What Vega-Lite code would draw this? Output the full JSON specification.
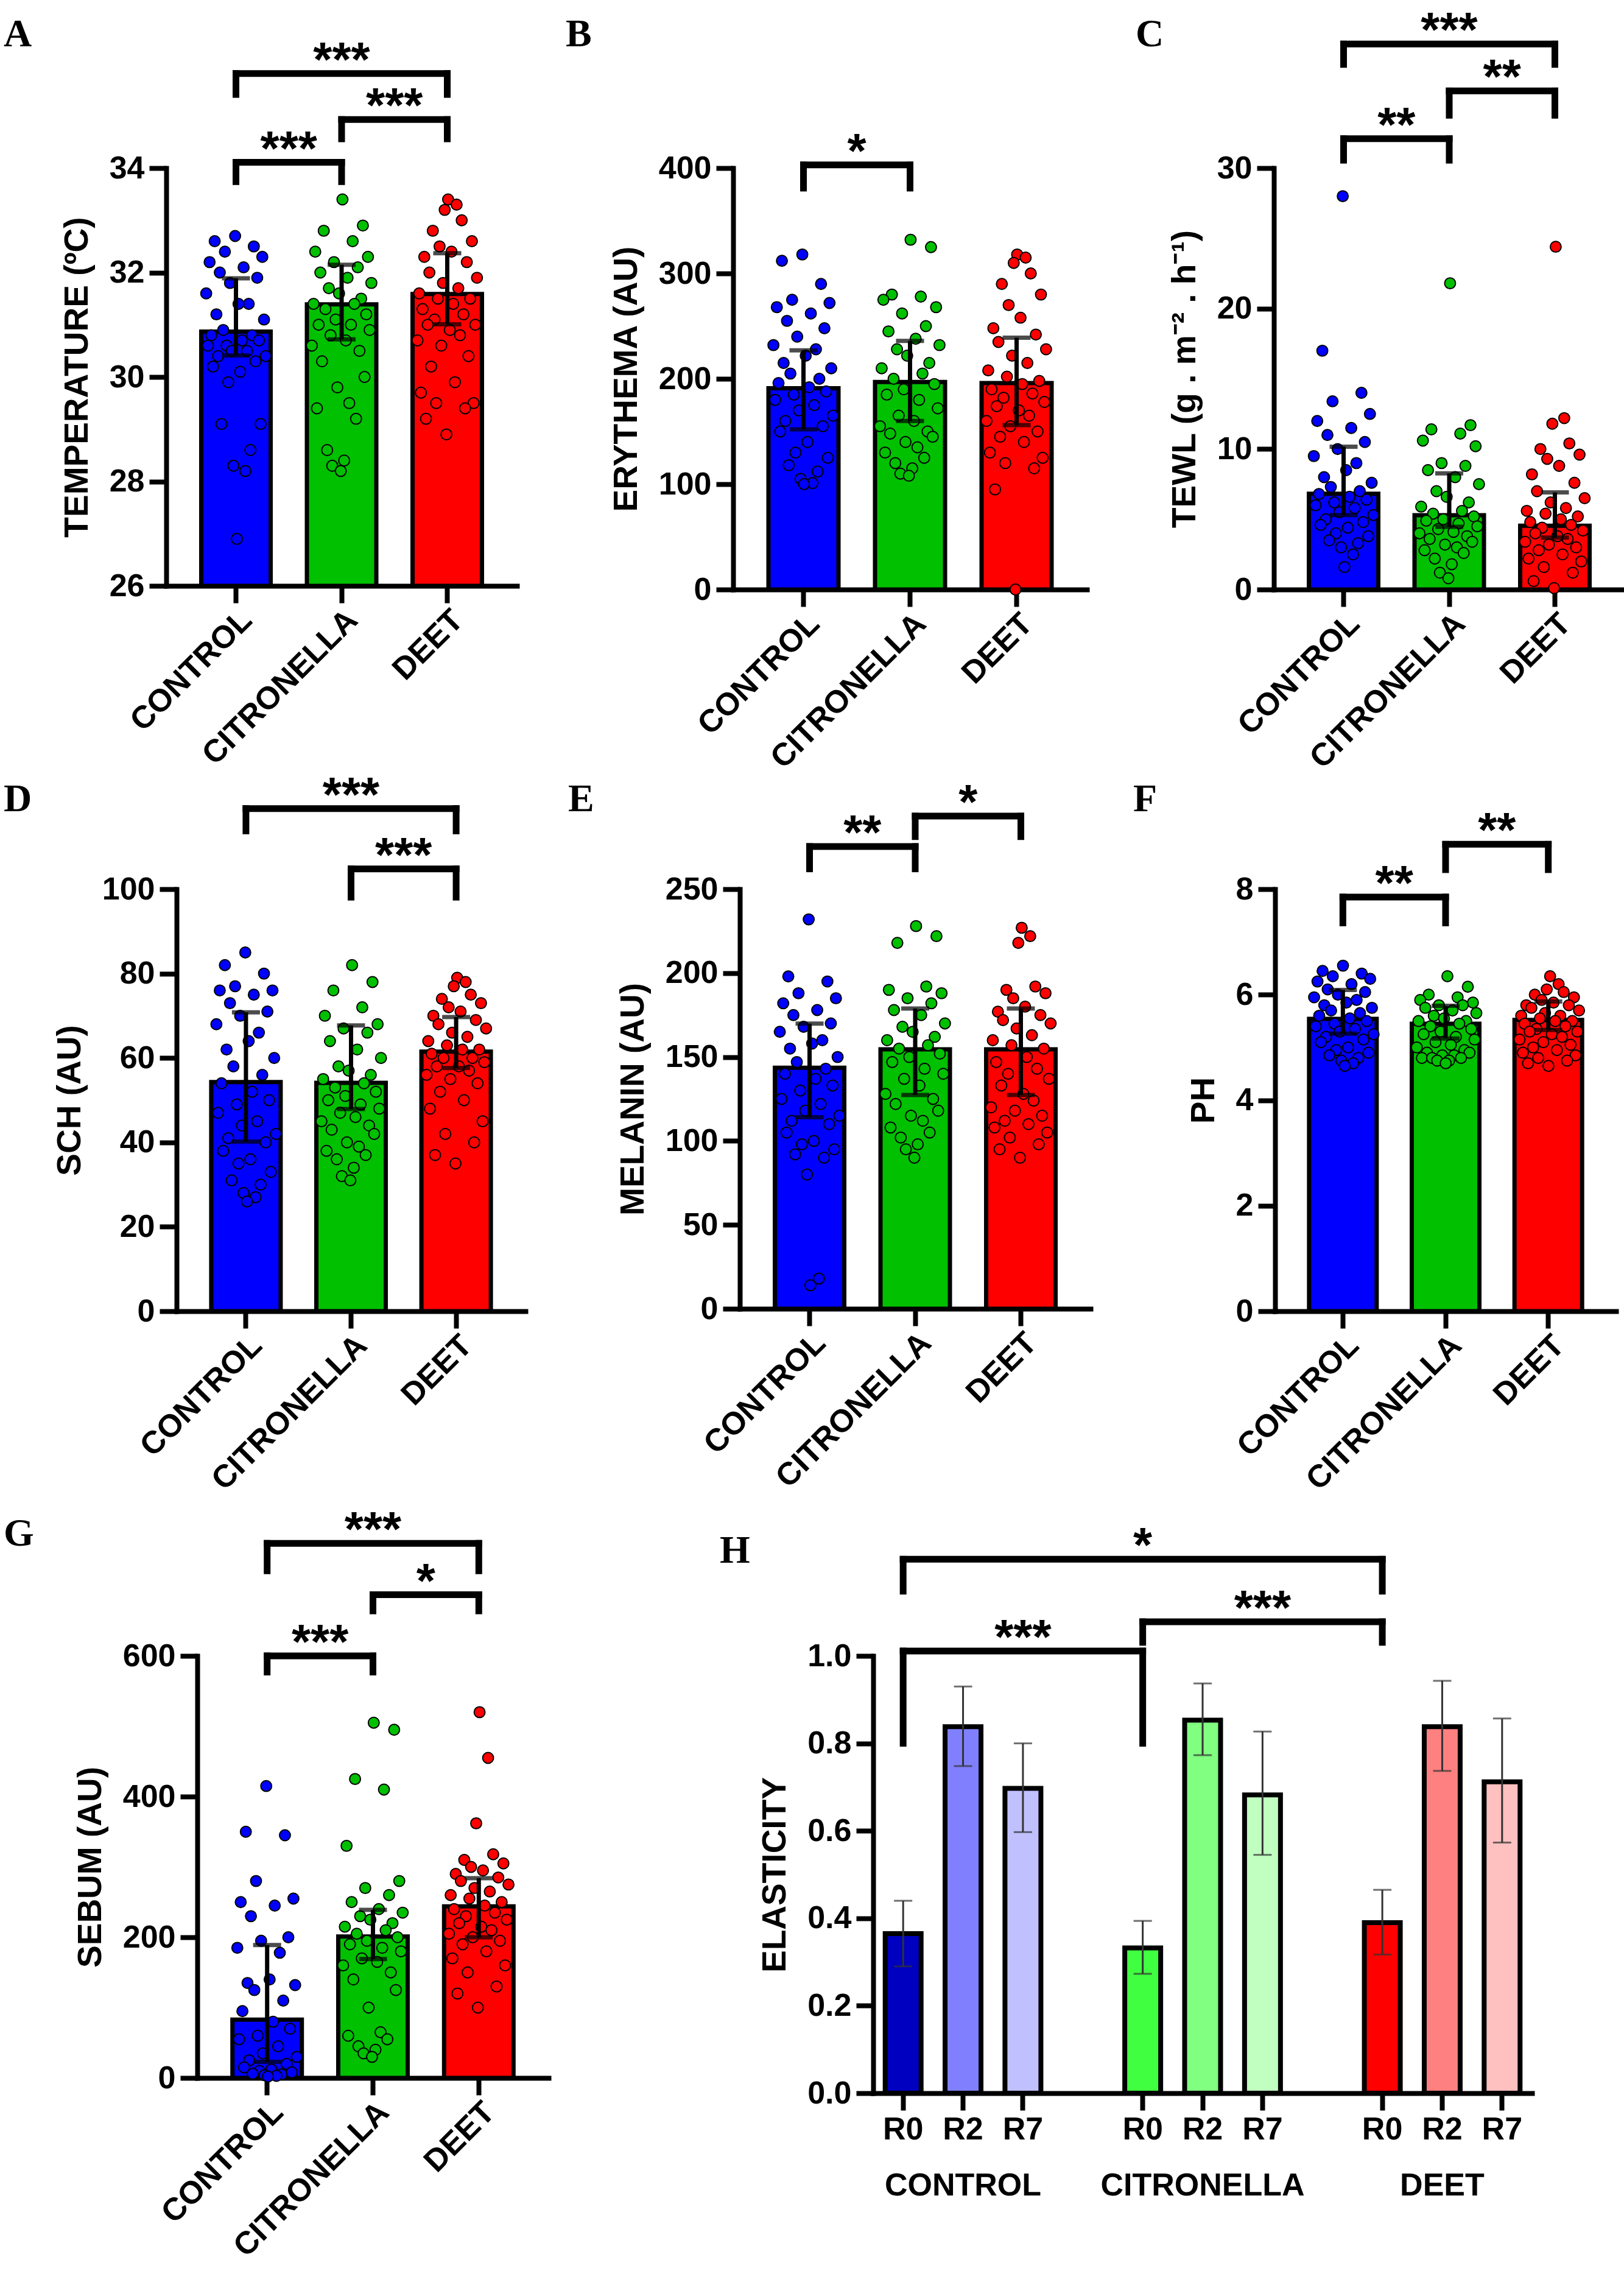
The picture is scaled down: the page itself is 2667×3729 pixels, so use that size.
{
  "$schema": "https://vega.github.io/schema/vega-lite/v6.json",
  "background": "white",
  "padding": {"left": 5, "top": 12, "right": 5, "bottom": 0},
  "config": {
    "view": {"stroke": null},
    "font": "Liberation Sans",
    "axis": {
      "grid": false, "domainColor": "black", "domainWidth": 8, "domainCap": "square",
      "tickColor": "black", "tickWidth": 8, "tickSize": 28,
      "labelFont": "Liberation Sans", "labelFontWeight": "bold", "labelFontSize": 52, "labelColor": "black",
      "labelPadding": 8, "labelFlush": false, "labelOverlap": false, "labelLimit": 1000,
      "titleFont": "Liberation Sans", "titleFontWeight": "bold", "titleFontSize": 55, "titleColor": "black", "titlePadding": 24
    },
    "axisX": {"labelPadding": 2},
    "title": {"font": "Liberation Serif", "fontSize": 64, "fontWeight": "bold", "color": "black", "anchor": "start", "frame": "group", "baseline": "alphabetic"}
  },
  "datasets": {
    "pA": [{"g":"C","i":17,"v":32.7},{"g":"C","i":5,"v":32.6},{"g":"C","i":28,"v":32.5},{"g":"C","i":11,"v":32.4},{"g":"C","i":33,"v":32.3},{"g":"C","i":2,"v":32.2},{"g":"C","i":22,"v":32.1},{"g":"C","i":8,"v":32.0},{"g":"C","i":30,"v":31.9},{"g":"C","i":14,"v":31.8},{"g":"C","i":0,"v":31.6},{"g":"C","i":25,"v":31.4},{"g":"C","i":19,"v":31.4},{"g":"C","i":6,"v":31.2},{"g":"C","i":34,"v":31.1},{"g":"C","i":10,"v":30.9},{"g":"C","i":27,"v":30.8},{"g":"C","i":3,"v":30.8},{"g":"C","i":21,"v":30.7},{"g":"C","i":31,"v":30.7},{"g":"C","i":12,"v":30.6},{"g":"C","i":1,"v":30.6},{"g":"C","i":24,"v":30.5},{"g":"C","i":15,"v":30.5},{"g":"C","i":35,"v":30.4},{"g":"C","i":7,"v":30.4},{"g":"C","i":29,"v":30.3},{"g":"C","i":4,"v":30.2},{"g":"C","i":20,"v":30.1},{"g":"C","i":13,"v":29.9},{"g":"C","i":32,"v":29.1},{"g":"C","i":9,"v":29.1},{"g":"C","i":26,"v":28.6},{"g":"C","i":16,"v":28.3},{"g":"C","i":23,"v":28.2},{"g":"C","i":18,"v":26.9},
      {"g":"T","i":18,"v":33.4},{"g":"T","i":30,"v":32.9},{"g":"T","i":7,"v":32.8},{"g":"T","i":24,"v":32.6},{"g":"T","i":2,"v":32.4},{"g":"T","i":33,"v":32.3},{"g":"T","i":13,"v":32.2},{"g":"T","i":27,"v":32.1},{"g":"T","i":5,"v":32.0},{"g":"T","i":21,"v":31.9},{"g":"T","i":35,"v":31.8},{"g":"T","i":10,"v":31.7},{"g":"T","i":16,"v":31.6},{"g":"T","i":29,"v":31.5},{"g":"T","i":1,"v":31.4},{"g":"T","i":25,"v":31.4},{"g":"T","i":8,"v":31.3},{"g":"T","i":32,"v":31.2},{"g":"T","i":14,"v":31.1},{"g":"T","i":4,"v":31.0},{"g":"T","i":23,"v":31.0},{"g":"T","i":34,"v":30.9},{"g":"T","i":11,"v":30.8},{"g":"T","i":20,"v":30.7},{"g":"T","i":0,"v":30.6},{"g":"T","i":28,"v":30.5},{"g":"T","i":6,"v":30.3},{"g":"T","i":31,"v":30.0},{"g":"T","i":15,"v":29.8},{"g":"T","i":22,"v":29.5},{"g":"T","i":3,"v":29.4},{"g":"T","i":26,"v":29.2},{"g":"T","i":9,"v":28.6},{"g":"T","i":19,"v":28.4},{"g":"T","i":12,"v":28.3},{"g":"T","i":17,"v":28.2},
      {"g":"D","i":18,"v":33.4},{"g":"D","i":23,"v":33.3},{"g":"D","i":16,"v":33.2},{"g":"D","i":26,"v":33.0},{"g":"D","i":9,"v":32.8},{"g":"D","i":32,"v":32.6},{"g":"D","i":13,"v":32.5},{"g":"D","i":20,"v":32.4},{"g":"D","i":4,"v":32.3},{"g":"D","i":29,"v":32.2},{"g":"D","i":7,"v":32.0},{"g":"D","i":35,"v":31.9},{"g":"D","i":15,"v":31.8},{"g":"D","i":24,"v":31.7},{"g":"D","i":1,"v":31.6},{"g":"D","i":12,"v":31.5},{"g":"D","i":31,"v":31.5},{"g":"D","i":21,"v":31.4},{"g":"D","i":3,"v":31.3},{"g":"D","i":27,"v":31.2},{"g":"D","i":10,"v":31.1},{"g":"D","i":34,"v":31.0},{"g":"D","i":6,"v":31.0},{"g":"D","i":19,"v":30.9},{"g":"D","i":25,"v":30.8},{"g":"D","i":0,"v":30.7},{"g":"D","i":14,"v":30.6},{"g":"D","i":30,"v":30.4},{"g":"D","i":8,"v":30.2},{"g":"D","i":22,"v":29.9},{"g":"D","i":2,"v":29.7},{"g":"D","i":33,"v":29.5},{"g":"D","i":11,"v":29.5},{"g":"D","i":28,"v":29.4},{"g":"D","i":5,"v":29.2},{"g":"D","i":17,"v":28.9}],
    "pB": [{"g":"C","i":17,"v":318},{"g":"C","i":5,"v":312},{"g":"C","i":28,"v":290},{"g":"C","i":11,"v":275},{"g":"C","i":33,"v":272},{"g":"C","i":2,"v":268},{"g":"C","i":22,"v":262},{"g":"C","i":8,"v":255},{"g":"C","i":30,"v":248},{"g":"C","i":14,"v":240},{"g":"C","i":0,"v":232},{"g":"C","i":25,"v":228},{"g":"C","i":19,"v":222},{"g":"C","i":6,"v":215},{"g":"C","i":34,"v":210},{"g":"C","i":10,"v":205},{"g":"C","i":27,"v":200},{"g":"C","i":3,"v":196},{"g":"C","i":21,"v":192},{"g":"C","i":31,"v":188},{"g":"C","i":12,"v":185},{"g":"C","i":1,"v":180},{"g":"C","i":24,"v":175},{"g":"C","i":15,"v":170},{"g":"C","i":35,"v":165},{"g":"C","i":7,"v":160},{"g":"C","i":29,"v":155},{"g":"C","i":4,"v":150},{"g":"C","i":20,"v":140},{"g":"C","i":13,"v":130},{"g":"C","i":32,"v":125},{"g":"C","i":9,"v":118},{"g":"C","i":26,"v":112},{"g":"C","i":16,"v":105},{"g":"C","i":23,"v":101},{"g":"C","i":18,"v":100},
      {"g":"T","i":18,"v":332},{"g":"T","i":30,"v":325},{"g":"T","i":7,"v":280},{"g":"T","i":24,"v":278},{"g":"T","i":2,"v":275},{"g":"T","i":33,"v":268},{"g":"T","i":13,"v":262},{"g":"T","i":27,"v":250},{"g":"T","i":5,"v":245},{"g":"T","i":21,"v":238},{"g":"T","i":35,"v":232},{"g":"T","i":10,"v":228},{"g":"T","i":16,"v":222},{"g":"T","i":29,"v":215},{"g":"T","i":1,"v":210},{"g":"T","i":25,"v":205},{"g":"T","i":8,"v":200},{"g":"T","i":32,"v":195},{"g":"T","i":14,"v":190},{"g":"T","i":4,"v":185},{"g":"T","i":23,"v":180},{"g":"T","i":34,"v":172},{"g":"T","i":11,"v":165},{"g":"T","i":20,"v":160},{"g":"T","i":0,"v":155},{"g":"T","i":28,"v":150},{"g":"T","i":6,"v":148},{"g":"T","i":31,"v":145},{"g":"T","i":15,"v":140},{"g":"T","i":22,"v":135},{"g":"T","i":3,"v":130},{"g":"T","i":26,"v":125},{"g":"T","i":9,"v":120},{"g":"T","i":19,"v":115},{"g":"T","i":12,"v":110},{"g":"T","i":17,"v":108},
      {"g":"D","i":18,"v":318},{"g":"D","i":23,"v":315},{"g":"D","i":16,"v":310},{"g":"D","i":26,"v":300},{"g":"D","i":9,"v":290},{"g":"D","i":32,"v":280},{"g":"D","i":13,"v":270},{"g":"D","i":20,"v":258},{"g":"D","i":4,"v":248},{"g":"D","i":29,"v":242},{"g":"D","i":7,"v":235},{"g":"D","i":35,"v":228},{"g":"D","i":15,"v":222},{"g":"D","i":24,"v":215},{"g":"D","i":1,"v":208},{"g":"D","i":12,"v":202},{"g":"D","i":31,"v":198},{"g":"D","i":21,"v":195},{"g":"D","i":3,"v":190},{"g":"D","i":27,"v":186},{"g":"D","i":10,"v":182},{"g":"D","i":34,"v":178},{"g":"D","i":6,"v":174},{"g":"D","i":19,"v":170},{"g":"D","i":25,"v":165},{"g":"D","i":0,"v":160},{"g":"D","i":14,"v":155},{"g":"D","i":30,"v":150},{"g":"D","i":8,"v":145},{"g":"D","i":22,"v":140},{"g":"D","i":2,"v":130},{"g":"D","i":33,"v":125},{"g":"D","i":11,"v":120},{"g":"D","i":28,"v":115},{"g":"D","i":5,"v":95},{"g":"D","i":17,"v":0}],
    "pC": [{"g":"C","i":17,"v":28},{"g":"C","i":5,"v":17},{"g":"C","i":28,"v":14},{"g":"C","i":11,"v":13.4},{"g":"C","i":33,"v":12.5},{"g":"C","i":2,"v":12},{"g":"C","i":22,"v":11.5},{"g":"C","i":8,"v":11},{"g":"C","i":30,"v":10.5},{"g":"C","i":14,"v":10},{"g":"C","i":0,"v":9.5},{"g":"C","i":25,"v":9},{"g":"C","i":19,"v":8.5},{"g":"C","i":6,"v":8},{"g":"C","i":34,"v":7.6},{"g":"C","i":10,"v":7.3},{"g":"C","i":27,"v":7},{"g":"C","i":3,"v":6.8},{"g":"C","i":21,"v":6.6},{"g":"C","i":31,"v":6.4},{"g":"C","i":12,"v":6.2},{"g":"C","i":1,"v":6},{"g":"C","i":24,"v":5.8},{"g":"C","i":15,"v":5.5},{"g":"C","i":35,"v":5.3},{"g":"C","i":7,"v":5},{"g":"C","i":29,"v":4.8},{"g":"C","i":4,"v":4.6},{"g":"C","i":20,"v":4.4},{"g":"C","i":13,"v":4},{"g":"C","i":32,"v":3.8},{"g":"C","i":9,"v":3.5},{"g":"C","i":26,"v":3.3},{"g":"C","i":16,"v":3},{"g":"C","i":23,"v":2.5},{"g":"C","i":18,"v":1.6},
      {"g":"T","i":18,"v":21.8},{"g":"T","i":30,"v":11.7},{"g":"T","i":7,"v":11.4},{"g":"T","i":24,"v":11.1},{"g":"T","i":2,"v":10.6},{"g":"T","i":33,"v":10.2},{"g":"T","i":13,"v":9},{"g":"T","i":27,"v":8.8},{"g":"T","i":5,"v":8.5},{"g":"T","i":21,"v":8},{"g":"T","i":35,"v":7.5},{"g":"T","i":10,"v":7},{"g":"T","i":16,"v":6.6},{"g":"T","i":29,"v":6.2},{"g":"T","i":1,"v":5.9},{"g":"T","i":25,"v":5.6},{"g":"T","i":8,"v":5.4},{"g":"T","i":32,"v":5.2},{"g":"T","i":14,"v":5},{"g":"T","i":4,"v":4.9},{"g":"T","i":23,"v":4.7},{"g":"T","i":34,"v":4.5},{"g":"T","i":11,"v":4.3},{"g":"T","i":20,"v":4.1},{"g":"T","i":0,"v":4},{"g":"T","i":28,"v":3.8},{"g":"T","i":6,"v":3.6},{"g":"T","i":31,"v":3.4},{"g":"T","i":15,"v":3.2},{"g":"T","i":22,"v":3},{"g":"T","i":3,"v":2.8},{"g":"T","i":26,"v":2.6},{"g":"T","i":9,"v":2.2},{"g":"T","i":19,"v":1.8},{"g":"T","i":12,"v":1.2},{"g":"T","i":17,"v":0.8},
      {"g":"D","i":18,"v":24.4},{"g":"D","i":23,"v":12.2},{"g":"D","i":16,"v":11.8},{"g":"D","i":26,"v":10.4},{"g":"D","i":9,"v":10},{"g":"D","i":32,"v":9.6},{"g":"D","i":13,"v":9.3},{"g":"D","i":20,"v":8.8},{"g":"D","i":4,"v":8.2},{"g":"D","i":29,"v":7.6},{"g":"D","i":7,"v":7},{"g":"D","i":35,"v":6.5},{"g":"D","i":15,"v":6.2},{"g":"D","i":24,"v":5.8},{"g":"D","i":1,"v":5.6},{"g":"D","i":12,"v":5.4},{"g":"D","i":31,"v":5.2},{"g":"D","i":21,"v":5},{"g":"D","i":3,"v":4.8},{"g":"D","i":27,"v":4.6},{"g":"D","i":10,"v":4.4},{"g":"D","i":34,"v":4.2},{"g":"D","i":6,"v":4},{"g":"D","i":19,"v":3.8},{"g":"D","i":25,"v":3.6},{"g":"D","i":0,"v":3.4},{"g":"D","i":14,"v":3.2},{"g":"D","i":30,"v":3},{"g":"D","i":8,"v":2.8},{"g":"D","i":22,"v":2.5},{"g":"D","i":2,"v":2.2},{"g":"D","i":33,"v":2},{"g":"D","i":11,"v":1.6},{"g":"D","i":28,"v":1.2},{"g":"D","i":5,"v":0.6},{"g":"D","i":17,"v":0.1}],
    "pD": [{"g":"C","i":17,"v":85},{"g":"C","i":5,"v":82},{"g":"C","i":28,"v":80},{"g":"C","i":11,"v":77},{"g":"C","i":33,"v":76},{"g":"C","i":2,"v":76},{"g":"C","i":22,"v":75},{"g":"C","i":8,"v":73},{"g":"C","i":30,"v":71},{"g":"C","i":14,"v":70},{"g":"C","i":0,"v":68},{"g":"C","i":25,"v":66},{"g":"C","i":19,"v":64},{"g":"C","i":6,"v":62},{"g":"C","i":34,"v":60},{"g":"C","i":10,"v":58},{"g":"C","i":27,"v":56},{"g":"C","i":3,"v":54},{"g":"C","i":21,"v":52},{"g":"C","i":31,"v":50},{"g":"C","i":12,"v":49},{"g":"C","i":1,"v":47},{"g":"C","i":24,"v":45},{"g":"C","i":15,"v":44},{"g":"C","i":35,"v":42},{"g":"C","i":7,"v":41},{"g":"C","i":29,"v":40},{"g":"C","i":4,"v":38},{"g":"C","i":20,"v":36},{"g":"C","i":13,"v":35},{"g":"C","i":32,"v":33},{"g":"C","i":9,"v":31},{"g":"C","i":26,"v":30},{"g":"C","i":16,"v":28},{"g":"C","i":23,"v":27},{"g":"C","i":18,"v":26},
      {"g":"T","i":18,"v":82},{"g":"T","i":30,"v":78},{"g":"T","i":7,"v":76},{"g":"T","i":24,"v":72},{"g":"T","i":2,"v":70},{"g":"T","i":33,"v":68},{"g":"T","i":13,"v":67},{"g":"T","i":27,"v":66},{"g":"T","i":5,"v":64},{"g":"T","i":21,"v":62},{"g":"T","i":35,"v":60},{"g":"T","i":10,"v":58},{"g":"T","i":16,"v":57},{"g":"T","i":29,"v":56},{"g":"T","i":1,"v":55},{"g":"T","i":25,"v":54},{"g":"T","i":8,"v":53},{"g":"T","i":32,"v":52},{"g":"T","i":14,"v":51},{"g":"T","i":4,"v":50},{"g":"T","i":23,"v":49},{"g":"T","i":34,"v":48},{"g":"T","i":11,"v":47},{"g":"T","i":20,"v":46},{"g":"T","i":0,"v":45},{"g":"T","i":28,"v":44},{"g":"T","i":6,"v":43},{"g":"T","i":31,"v":42},{"g":"T","i":15,"v":40},{"g":"T","i":22,"v":39},{"g":"T","i":3,"v":38},{"g":"T","i":26,"v":37},{"g":"T","i":9,"v":36},{"g":"T","i":19,"v":34},{"g":"T","i":12,"v":32},{"g":"T","i":17,"v":31},
      {"g":"D","i":18,"v":79},{"g":"D","i":23,"v":78},{"g":"D","i":16,"v":77},{"g":"D","i":26,"v":75},{"g":"D","i":9,"v":74},{"g":"D","i":32,"v":73},{"g":"D","i":13,"v":72},{"g":"D","i":20,"v":71},{"g":"D","i":4,"v":70},{"g":"D","i":29,"v":69},{"g":"D","i":7,"v":68},{"g":"D","i":35,"v":67},{"g":"D","i":15,"v":66},{"g":"D","i":24,"v":65},{"g":"D","i":1,"v":64},{"g":"D","i":12,"v":63},{"g":"D","i":31,"v":62},{"g":"D","i":21,"v":62},{"g":"D","i":3,"v":61},{"g":"D","i":27,"v":60},{"g":"D","i":10,"v":60},{"g":"D","i":34,"v":59},{"g":"D","i":6,"v":58},{"g":"D","i":19,"v":58},{"g":"D","i":25,"v":57},{"g":"D","i":0,"v":56},{"g":"D","i":14,"v":55},{"g":"D","i":30,"v":54},{"g":"D","i":8,"v":52},{"g":"D","i":22,"v":50},{"g":"D","i":2,"v":48},{"g":"D","i":33,"v":45},{"g":"D","i":11,"v":42},{"g":"D","i":28,"v":40},{"g":"D","i":5,"v":37},{"g":"D","i":17,"v":35}],
    "pE": [{"g":"C","i":17,"v":232},{"g":"C","i":5,"v":198},{"g":"C","i":28,"v":195},{"g":"C","i":11,"v":188},{"g":"C","i":33,"v":185},{"g":"C","i":2,"v":182},{"g":"C","i":22,"v":178},{"g":"C","i":8,"v":175},{"g":"C","i":30,"v":170},{"g":"C","i":14,"v":168},{"g":"C","i":0,"v":165},{"g":"C","i":25,"v":160},{"g":"C","i":19,"v":158},{"g":"C","i":6,"v":155},{"g":"C","i":34,"v":150},{"g":"C","i":10,"v":147},{"g":"C","i":27,"v":143},{"g":"C","i":3,"v":140},{"g":"C","i":21,"v":137},{"g":"C","i":31,"v":133},{"g":"C","i":12,"v":130},{"g":"C","i":1,"v":125},{"g":"C","i":24,"v":122},{"g":"C","i":15,"v":118},{"g":"C","i":35,"v":115},{"g":"C","i":7,"v":112},{"g":"C","i":29,"v":110},{"g":"C","i":4,"v":105},{"g":"C","i":20,"v":100},{"g":"C","i":13,"v":98},{"g":"C","i":32,"v":95},{"g":"C","i":9,"v":92},{"g":"C","i":26,"v":90},{"g":"C","i":16,"v":80},{"g":"C","i":23,"v":18},{"g":"C","i":18,"v":14},
      {"g":"T","i":18,"v":228},{"g":"T","i":30,"v":222},{"g":"T","i":7,"v":218},{"g":"T","i":24,"v":192},{"g":"T","i":2,"v":190},{"g":"T","i":33,"v":188},{"g":"T","i":13,"v":185},{"g":"T","i":27,"v":182},{"g":"T","i":5,"v":178},{"g":"T","i":21,"v":175},{"g":"T","i":35,"v":170},{"g":"T","i":10,"v":168},{"g":"T","i":16,"v":165},{"g":"T","i":29,"v":162},{"g":"T","i":1,"v":160},{"g":"T","i":25,"v":157},{"g":"T","i":8,"v":155},{"g":"T","i":32,"v":152},{"g":"T","i":14,"v":150},{"g":"T","i":4,"v":147},{"g":"T","i":23,"v":143},{"g":"T","i":34,"v":140},{"g":"T","i":11,"v":137},{"g":"T","i":20,"v":133},{"g":"T","i":0,"v":128},{"g":"T","i":28,"v":125},{"g":"T","i":6,"v":122},{"g":"T","i":31,"v":118},{"g":"T","i":15,"v":115},{"g":"T","i":22,"v":112},{"g":"T","i":3,"v":108},{"g":"T","i":26,"v":105},{"g":"T","i":9,"v":102},{"g":"T","i":19,"v":98},{"g":"T","i":12,"v":95},{"g":"T","i":17,"v":90},
      {"g":"D","i":18,"v":227},{"g":"D","i":23,"v":222},{"g":"D","i":16,"v":218},{"g":"D","i":26,"v":192},{"g":"D","i":9,"v":190},{"g":"D","i":32,"v":188},{"g":"D","i":13,"v":185},{"g":"D","i":20,"v":180},{"g":"D","i":4,"v":177},{"g":"D","i":29,"v":175},{"g":"D","i":7,"v":172},{"g":"D","i":35,"v":170},{"g":"D","i":15,"v":167},{"g":"D","i":24,"v":163},{"g":"D","i":1,"v":160},{"g":"D","i":12,"v":157},{"g":"D","i":31,"v":155},{"g":"D","i":21,"v":150},{"g":"D","i":3,"v":147},{"g":"D","i":27,"v":143},{"g":"D","i":10,"v":140},{"g":"D","i":34,"v":137},{"g":"D","i":6,"v":133},{"g":"D","i":19,"v":128},{"g":"D","i":25,"v":124},{"g":"D","i":0,"v":120},{"g":"D","i":14,"v":118},{"g":"D","i":30,"v":115},{"g":"D","i":8,"v":112},{"g":"D","i":22,"v":110},{"g":"D","i":2,"v":108},{"g":"D","i":33,"v":105},{"g":"D","i":11,"v":102},{"g":"D","i":28,"v":98},{"g":"D","i":5,"v":95},{"g":"D","i":17,"v":90}],
    "pF": [{"g":"C","i":17,"v":6.55},{"g":"C","i":5,"v":6.45},{"g":"C","i":28,"v":6.4},{"g":"C","i":11,"v":6.35},{"g":"C","i":33,"v":6.3},{"g":"C","i":2,"v":6.25},{"g":"C","i":22,"v":6.2},{"g":"C","i":8,"v":6.1},{"g":"C","i":30,"v":6.05},{"g":"C","i":14,"v":6},{"g":"C","i":0,"v":5.95},{"g":"C","i":25,"v":5.9},{"g":"C","i":19,"v":5.85},{"g":"C","i":6,"v":5.8},{"g":"C","i":34,"v":5.75},{"g":"C","i":10,"v":5.7},{"g":"C","i":27,"v":5.65},{"g":"C","i":3,"v":5.6},{"g":"C","i":21,"v":5.55},{"g":"C","i":31,"v":5.5},{"g":"C","i":12,"v":5.45},{"g":"C","i":1,"v":5.4},{"g":"C","i":24,"v":5.35},{"g":"C","i":15,"v":5.3},{"g":"C","i":35,"v":5.25},{"g":"C","i":7,"v":5.2},{"g":"C","i":29,"v":5.15},{"g":"C","i":4,"v":5.1},{"g":"C","i":20,"v":5},{"g":"C","i":13,"v":4.95},{"g":"C","i":32,"v":4.9},{"g":"C","i":9,"v":4.85},{"g":"C","i":26,"v":4.8},{"g":"C","i":16,"v":4.75},{"g":"C","i":23,"v":4.7},{"g":"C","i":18,"v":4.65},
      {"g":"T","i":18,"v":6.35},{"g":"T","i":30,"v":6.15},{"g":"T","i":7,"v":6},{"g":"T","i":24,"v":5.95},{"g":"T","i":2,"v":5.9},{"g":"T","i":33,"v":5.85},{"g":"T","i":13,"v":5.8},{"g":"T","i":27,"v":5.8},{"g":"T","i":5,"v":5.75},{"g":"T","i":21,"v":5.7},{"g":"T","i":35,"v":5.65},{"g":"T","i":10,"v":5.6},{"g":"T","i":16,"v":5.55},{"g":"T","i":29,"v":5.5},{"g":"T","i":1,"v":5.5},{"g":"T","i":25,"v":5.45},{"g":"T","i":8,"v":5.4},{"g":"T","i":32,"v":5.35},{"g":"T","i":14,"v":5.3},{"g":"T","i":4,"v":5.25},{"g":"T","i":23,"v":5.2},{"g":"T","i":34,"v":5.15},{"g":"T","i":11,"v":5.1},{"g":"T","i":20,"v":5.05},{"g":"T","i":0,"v":5},{"g":"T","i":28,"v":4.95},{"g":"T","i":6,"v":4.9},{"g":"T","i":31,"v":4.9},{"g":"T","i":15,"v":4.85},{"g":"T","i":22,"v":4.85},{"g":"T","i":3,"v":4.8},{"g":"T","i":26,"v":4.8},{"g":"T","i":9,"v":4.8},{"g":"T","i":19,"v":4.75},{"g":"T","i":12,"v":4.75},{"g":"T","i":17,"v":4.7},
      {"g":"D","i":18,"v":6.35},{"g":"D","i":23,"v":6.2},{"g":"D","i":16,"v":6.1},{"g":"D","i":26,"v":6.05},{"g":"D","i":9,"v":6},{"g":"D","i":32,"v":5.95},{"g":"D","i":13,"v":5.9},{"g":"D","i":20,"v":5.85},{"g":"D","i":4,"v":5.8},{"g":"D","i":29,"v":5.8},{"g":"D","i":7,"v":5.75},{"g":"D","i":35,"v":5.7},{"g":"D","i":15,"v":5.65},{"g":"D","i":24,"v":5.6},{"g":"D","i":1,"v":5.6},{"g":"D","i":12,"v":5.55},{"g":"D","i":31,"v":5.5},{"g":"D","i":21,"v":5.5},{"g":"D","i":3,"v":5.45},{"g":"D","i":27,"v":5.4},{"g":"D","i":10,"v":5.35},{"g":"D","i":34,"v":5.3},{"g":"D","i":6,"v":5.3},{"g":"D","i":19,"v":5.25},{"g":"D","i":25,"v":5.2},{"g":"D","i":0,"v":5.15},{"g":"D","i":14,"v":5.1},{"g":"D","i":30,"v":5.05},{"g":"D","i":8,"v":5},{"g":"D","i":22,"v":4.95},{"g":"D","i":2,"v":4.9},{"g":"D","i":33,"v":4.85},{"g":"D","i":11,"v":4.8},{"g":"D","i":28,"v":4.75},{"g":"D","i":5,"v":4.7},{"g":"D","i":17,"v":4.65}],
    "pG": [{"g":"C","i":17,"v":415},{"g":"C","i":5,"v":350},{"g":"C","i":28,"v":345},{"g":"C","i":11,"v":280},{"g":"C","i":33,"v":255},{"g":"C","i":2,"v":250},{"g":"C","i":22,"v":245},{"g":"C","i":8,"v":230},{"g":"C","i":30,"v":200},{"g":"C","i":14,"v":195},{"g":"C","i":0,"v":185},{"g":"C","i":25,"v":178},{"g":"C","i":19,"v":140},{"g":"C","i":6,"v":135},{"g":"C","i":34,"v":132},{"g":"C","i":10,"v":125},{"g":"C","i":27,"v":110},{"g":"C","i":3,"v":95},{"g":"C","i":21,"v":80},{"g":"C","i":31,"v":70},{"g":"C","i":12,"v":60},{"g":"C","i":1,"v":55},{"g":"C","i":24,"v":45},{"g":"C","i":15,"v":35},{"g":"C","i":35,"v":30},{"g":"C","i":7,"v":25},{"g":"C","i":29,"v":20},{"g":"C","i":4,"v":15},{"g":"C","i":20,"v":12},{"g":"C","i":13,"v":10},{"g":"C","i":32,"v":8},{"g":"C","i":9,"v":6},{"g":"C","i":26,"v":5},{"g":"C","i":16,"v":4},{"g":"C","i":23,"v":3},{"g":"C","i":18,"v":2},
      {"g":"T","i":18,"v":505},{"g":"T","i":30,"v":495},{"g":"T","i":7,"v":425},{"g":"T","i":24,"v":410},{"g":"T","i":2,"v":330},{"g":"T","i":33,"v":280},{"g":"T","i":13,"v":270},{"g":"T","i":27,"v":260},{"g":"T","i":5,"v":250},{"g":"T","i":21,"v":240},{"g":"T","i":35,"v":235},{"g":"T","i":10,"v":230},{"g":"T","i":16,"v":225},{"g":"T","i":29,"v":220},{"g":"T","i":1,"v":215},{"g":"T","i":25,"v":210},{"g":"T","i":8,"v":205},{"g":"T","i":32,"v":200},{"g":"T","i":14,"v":195},{"g":"T","i":4,"v":190},{"g":"T","i":23,"v":185},{"g":"T","i":34,"v":180},{"g":"T","i":11,"v":170},{"g":"T","i":20,"v":165},{"g":"T","i":0,"v":160},{"g":"T","i":28,"v":150},{"g":"T","i":6,"v":140},{"g":"T","i":31,"v":125},{"g":"T","i":15,"v":100},{"g":"T","i":22,"v":65},{"g":"T","i":3,"v":60},{"g":"T","i":26,"v":55},{"g":"T","i":9,"v":45},{"g":"T","i":19,"v":40},{"g":"T","i":12,"v":35},{"g":"T","i":17,"v":30},
      {"g":"D","i":18,"v":520},{"g":"D","i":23,"v":455},{"g":"D","i":16,"v":362},{"g":"D","i":26,"v":318},{"g":"D","i":9,"v":310},{"g":"D","i":32,"v":305},{"g":"D","i":13,"v":300},{"g":"D","i":20,"v":295},{"g":"D","i":4,"v":290},{"g":"D","i":29,"v":285},{"g":"D","i":7,"v":280},{"g":"D","i":35,"v":275},{"g":"D","i":15,"v":270},{"g":"D","i":24,"v":265},{"g":"D","i":1,"v":260},{"g":"D","i":12,"v":255},{"g":"D","i":31,"v":250},{"g":"D","i":21,"v":245},{"g":"D","i":3,"v":240},{"g":"D","i":27,"v":235},{"g":"D","i":10,"v":230},{"g":"D","i":34,"v":225},{"g":"D","i":6,"v":220},{"g":"D","i":19,"v":215},{"g":"D","i":25,"v":210},{"g":"D","i":0,"v":205},{"g":"D","i":14,"v":200},{"g":"D","i":30,"v":195},{"g":"D","i":8,"v":190},{"g":"D","i":22,"v":180},{"g":"D","i":2,"v":170},{"g":"D","i":33,"v":160},{"g":"D","i":11,"v":150},{"g":"D","i":28,"v":130},{"g":"D","i":5,"v":120},{"g":"D","i":17,"v":100}],
    "sA": [{"g":"C","m":30.87,"lo":30.41,"hi":31.89},{"g":"T","m":31.39,"lo":30.72,"hi":32.15},{"g":"D","m":31.59,"lo":31.01,"hi":32.37}],
    "sB": [{"g":"C","m":191,"lo":152,"hi":227},{"g":"T","m":197,"lo":160,"hi":236},{"g":"D","m":196,"lo":156,"hi":239}],
    "sC": [{"g":"C","m":6.82,"lo":5.3,"hi":10.17},{"g":"T","m":5.29,"lo":4.46,"hi":8.27},{"g":"D","m":4.54,"lo":3.7,"hi":6.91}],
    "sD": [{"g":"C","m":54.3,"lo":40.2,"hi":70.8},{"g":"T","m":54.1,"lo":47.9,"hi":67.7},{"g":"D","m":61.5,"lo":57.6,"hi":69.7}],
    "sE": [{"g":"C","m":143.6,"lo":114.1,"hi":169.9},{"g":"T","m":154.6,"lo":127.4,"hi":178.9},{"g":"D","m":154.6,"lo":127.4,"hi":178.9}],
    "sF": [{"g":"C","m":5.54,"lo":5.26,"hi":6.09},{"g":"T","m":5.45,"lo":5.17,"hi":5.79},{"g":"D","m":5.52,"lo":5.33,"hi":5.87}],
    "sG": [{"g":"C","m":83,"lo":23,"hi":189},{"g":"T","m":201,"lo":169,"hi":239},{"g":"D","m":244,"lo":200,"hi":284}],
    "sH": [{"k":"C0","m":0.365,"lo":0.29,"hi":0.44},{"k":"C2","m":0.838,"lo":0.748,"hi":0.93},{"k":"C7","m":0.697,"lo":0.597,"hi":0.8},{"k":"T0","m":0.332,"lo":0.273,"hi":0.394},{"k":"T2","m":0.853,"lo":0.773,"hi":0.937},{"k":"T7","m":0.682,"lo":0.545,"hi":0.827},{"k":"D0","m":0.39,"lo":0.317,"hi":0.465},{"k":"D2","m":0.838,"lo":0.737,"hi":0.943},{"k":"D7","m":0.712,"lo":0.573,"hi":0.857}],
    "bA": [{"x1":0,"x2":1,"xm":0.5,"y":34.11,"yb":33.74,"s":"***"},{"x1":1,"x2":2,"xm":1.5,"y":34.93,"yb":34.56,"s":"***"},{"x1":0,"x2":2,"xm":1,"y":35.81,"yb":35.41,"s":"***"}],
    "bB": [{"x1":0,"x2":1,"xm":0.5,"y":403,"yb":381,"s":"*"}],
    "bC": [{"x1":0,"x2":1,"xm":0.5,"y":32.09,"yb":30.56,"s":"**"},{"x1":1,"x2":2,"xm":1.5,"y":35.49,"yb":33.76,"s":"**"},{"x1":0,"x2":2,"xm":1,"y":38.83,"yb":37.38,"s":"***"}],
    "bD": [{"x1":1,"x2":2,"xm":1.5,"y":104.8,"yb":98.1,"s":"***"},{"x1":0,"x2":2,"xm":1,"y":119.1,"yb":113.8,"s":"***"}],
    "bE": [{"x1":0,"x2":1,"xm":0.5,"y":275.4,"yb":262.1,"s":"**"},{"x1":1,"x2":2,"xm":1.5,"y":293.5,"yb":281.3,"s":"*"}],
    "bF": [{"x1":0,"x2":1,"xm":0.5,"y":7.85,"yb":7.36,"s":"**"},{"x1":1,"x2":2,"xm":1.5,"y":8.85,"yb":8.37,"s":"**"}],
    "bG": [{"x1":0,"x2":1,"xm":0.5,"y":600,"yb":577,"s":"***"},{"x1":1,"x2":2,"xm":1.5,"y":687,"yb":664,"s":"*"},{"x1":0,"x2":2,"xm":1,"y":760,"yb":721,"s":"***"}],
    "bH": [{"x1":0,"x2":4,"xm":2,"y":1.011,"yb":0.8,"s":"***"},{"x1":4,"x2":8,"xm":6,"y":1.078,"yb":1.031,"s":"***"},{"x1":0,"x2":8,"xm":4,"y":1.221,"yb":1.148,"s":"*"}]
  },
  "spacing": 18,
  "vconcat": [
    {
      "spacing": -4,
      "vconcat": [
        {
          "spacing": 0,
          "hconcat": [
            {"width": 1, "height": 1, "data": {"values": []}, "mark": {"type": "point", "opacity": 0}},
            {
              "spacing": 80,
              "hconcat": [
                {
                  "width": 576, "height": 686,
                  "title": {"text": "A", "dx": -267, "offset": -28},
                  "resolve": {"scale": {"x": "independent"}},
                  "layer": [
                    {
                      "encoding": {"x": {"field": "g", "type": "nominal", "scale": {"type": "band", "domain": ["C","T","D"], "paddingInner": 0.34, "paddingOuter": 0.33}, "axis": {"title": null, "labelAngle": -45, "labelExpr": "datum.value == 'C' ? 'CONTROL' : datum.value == 'T' ? 'CITRONELLA' : 'DEET'"}}},
                      "layer": [
                        {"data": {"name": "sA"}, "mark": {"type": "bar", "width": 114, "stroke": "black", "strokeWidth": 7}, "encoding": {"y": {"field": "m", "type": "quantitative", "title": "TEMPERATURE (ºC)", "scale": {"domain": [26, 34], "nice": false, "zero": false}, "axis": {"values": [26, 28, 30, 32, 34], "format": "d"}}, "y2": {"datum": 26}, "color": {"field": "g", "type": "nominal", "scale": {"domain": ["C","T","D"], "range": ["#0000ff","#00c000","#ff0000"]}, "legend": null}}},
                        {"data": {"name": "pA"}, "mark": {"type": "circle", "size": 320, "opacity": 1, "stroke": "black", "strokeWidth": 2}, "encoding": {"xOffset": {"field": "i", "type": "quantitative", "scale": {"domain": [-3, 38], "nice": false, "zero": false}}, "y": {"field": "v", "type": "quantitative", "scale": {"domain": [26, 34]}}, "color": {"field": "g", "type": "nominal", "scale": {"domain": ["C","T","D"], "range": ["#0000ff","#00c000","#ff0000"]}, "legend": null}}},
                        {"data": {"name": "sA"}, "mark": {"type": "rule", "color": "black", "strokeWidth": 7}, "encoding": {"y": {"field": "lo", "type": "quantitative", "scale": {"domain": [26, 34]}}, "y2": {"field": "hi"}}},
                        {"data": {"name": "sA"}, "mark": {"type": "tick", "color": "black", "thickness": 7, "size": 46}, "encoding": {"y": {"field": "lo", "type": "quantitative", "scale": {"domain": [26, 34]}}}},
                        {"data": {"name": "sA"}, "mark": {"type": "tick", "color": "black", "thickness": 7, "size": 46}, "encoding": {"y": {"field": "hi", "type": "quantitative", "scale": {"domain": [26, 34]}}}}
                      ]
                    },
                    {
                      "data": {"name": "bA"},
                      "layer": [
                        {"mark": {"type": "rule", "color": "black", "strokeWidth": 11, "strokeCap": "square"}, "encoding": {"x": {"field": "x1", "type": "quantitative", "scale": {"domain": [-0.66, 2.66], "nice": false, "zero": false}, "axis": null}, "x2": {"field": "x2"}, "y": {"field": "y", "type": "quantitative", "scale": {"domain": [26, 34]}}}},
                        {"mark": {"type": "rule", "color": "black", "strokeWidth": 11, "strokeCap": "square"}, "encoding": {"x": {"field": "x1", "type": "quantitative", "scale": {"domain": [-0.66, 2.66], "nice": false, "zero": false}, "axis": null}, "y": {"field": "y", "type": "quantitative", "scale": {"domain": [26, 34]}}, "y2": {"field": "yb"}}},
                        {"mark": {"type": "rule", "color": "black", "strokeWidth": 11, "strokeCap": "square"}, "encoding": {"x": {"field": "x2", "type": "quantitative", "scale": {"domain": [-0.66, 2.66], "nice": false, "zero": false}, "axis": null}, "y": {"field": "y", "type": "quantitative", "scale": {"domain": [26, 34]}}, "y2": {"field": "yb"}}},
                        {"mark": {"type": "text", "fontSize": 80, "fontWeight": "bold", "baseline": "alphabetic", "dy": 4, "color": "black"}, "encoding": {"x": {"field": "xm", "type": "quantitative", "scale": {"domain": [-0.66, 2.66], "nice": false, "zero": false}, "axis": null}, "y": {"field": "y", "type": "quantitative", "scale": {"domain": [26, 34]}}, "text": {"field": "s", "type": "nominal"}}}
                      ]
                    }
                  ]
                },
                {
                  "width": 581, "height": 692,
                  "title": {"text": "B", "dx": -275, "offset": 122},
                  "resolve": {"scale": {"x": "independent"}},
                  "layer": [
                    {
                      "encoding": {"x": {"field": "g", "type": "nominal", "scale": {"type": "band", "domain": ["C","T","D"], "paddingInner": 0.34, "paddingOuter": 0.33}, "axis": {"title": null, "labelAngle": -45, "labelExpr": "datum.value == 'C' ? 'CONTROL' : datum.value == 'T' ? 'CITRONELLA' : 'DEET'"}}},
                      "layer": [
                        {"data": {"name": "sB"}, "mark": {"type": "bar", "width": 115, "stroke": "black", "strokeWidth": 7}, "encoding": {"y": {"field": "m", "type": "quantitative", "title": "ERYTHEMA (AU)", "scale": {"domain": [0, 400], "nice": false}, "axis": {"values": [0, 100, 200, 300, 400]}}, "y2": {"datum": 0}, "color": {"field": "g", "type": "nominal", "scale": {"domain": ["C","T","D"], "range": ["#0000ff","#00c000","#ff0000"]}, "legend": null}}},
                        {"data": {"name": "pB"}, "mark": {"type": "circle", "size": 320, "opacity": 1, "stroke": "black", "strokeWidth": 2}, "encoding": {"xOffset": {"field": "i", "type": "quantitative", "scale": {"domain": [-3, 38], "nice": false, "zero": false}}, "y": {"field": "v", "type": "quantitative", "scale": {"domain": [0, 400]}}, "color": {"field": "g", "type": "nominal", "scale": {"domain": ["C","T","D"], "range": ["#0000ff","#00c000","#ff0000"]}, "legend": null}}},
                        {"data": {"name": "sB"}, "mark": {"type": "rule", "color": "black", "strokeWidth": 7}, "encoding": {"y": {"field": "lo", "type": "quantitative", "scale": {"domain": [0, 400]}}, "y2": {"field": "hi"}}},
                        {"data": {"name": "sB"}, "mark": {"type": "tick", "color": "black", "thickness": 7, "size": 46}, "encoding": {"y": {"field": "lo", "type": "quantitative", "scale": {"domain": [0, 400]}}}},
                        {"data": {"name": "sB"}, "mark": {"type": "tick", "color": "black", "thickness": 7, "size": 46}, "encoding": {"y": {"field": "hi", "type": "quantitative", "scale": {"domain": [0, 400]}}}}
                      ]
                    },
                    {
                      "data": {"name": "bB"},
                      "layer": [
                        {"mark": {"type": "rule", "color": "black", "strokeWidth": 11, "strokeCap": "square"}, "encoding": {"x": {"field": "x1", "type": "quantitative", "scale": {"domain": [-0.66, 2.66], "nice": false, "zero": false}, "axis": null}, "x2": {"field": "x2"}, "y": {"field": "y", "type": "quantitative", "scale": {"domain": [0, 400]}}}},
                        {"mark": {"type": "rule", "color": "black", "strokeWidth": 11, "strokeCap": "square"}, "encoding": {"x": {"field": "x1", "type": "quantitative", "scale": {"domain": [-0.66, 2.66], "nice": false, "zero": false}, "axis": null}, "y": {"field": "y", "type": "quantitative", "scale": {"domain": [0, 400]}}, "y2": {"field": "yb"}}},
                        {"mark": {"type": "rule", "color": "black", "strokeWidth": 11, "strokeCap": "square"}, "encoding": {"x": {"field": "x2", "type": "quantitative", "scale": {"domain": [-0.66, 2.66], "nice": false, "zero": false}, "axis": null}, "y": {"field": "y", "type": "quantitative", "scale": {"domain": [0, 400]}}, "y2": {"field": "yb"}}},
                        {"mark": {"type": "text", "fontSize": 80, "fontWeight": "bold", "baseline": "alphabetic", "dy": 4, "color": "black"}, "encoding": {"x": {"field": "xm", "type": "quantitative", "scale": {"domain": [-0.66, 2.66], "nice": false, "zero": false}, "axis": null}, "y": {"field": "y", "type": "quantitative", "scale": {"domain": [0, 400]}}, "text": {"field": "s", "type": "nominal"}}}
                      ]
                    }
                  ]
                },
                {
                  "width": 576, "height": 692,
                  "title": {"text": "C", "dx": -227, "offset": -77},
                  "resolve": {"scale": {"x": "independent"}},
                  "layer": [
                    {
                      "encoding": {"x": {"field": "g", "type": "nominal", "scale": {"type": "band", "domain": ["C","T","D"], "paddingInner": 0.34, "paddingOuter": 0.33}, "axis": {"title": null, "labelAngle": -45, "labelExpr": "datum.value == 'C' ? 'CONTROL' : datum.value == 'T' ? 'CITRONELLA' : 'DEET'"}}},
                      "layer": [
                        {"data": {"name": "sC"}, "mark": {"type": "bar", "width": 114, "stroke": "black", "strokeWidth": 7}, "encoding": {"y": {"field": "m", "type": "quantitative", "title": "TEWL (g . m⁻² . h⁻¹)", "scale": {"domain": [0, 30], "nice": false}, "axis": {"values": [0, 10, 20, 30]}}, "y2": {"datum": 0}, "color": {"field": "g", "type": "nominal", "scale": {"domain": ["C","T","D"], "range": ["#0000ff","#00c000","#ff0000"]}, "legend": null}}},
                        {"data": {"name": "pC"}, "mark": {"type": "circle", "size": 320, "opacity": 1, "stroke": "black", "strokeWidth": 2}, "encoding": {"xOffset": {"field": "i", "type": "quantitative", "scale": {"domain": [-3, 38], "nice": false, "zero": false}}, "y": {"field": "v", "type": "quantitative", "scale": {"domain": [0, 30]}}, "color": {"field": "g", "type": "nominal", "scale": {"domain": ["C","T","D"], "range": ["#0000ff","#00c000","#ff0000"]}, "legend": null}}},
                        {"data": {"name": "sC"}, "mark": {"type": "rule", "color": "black", "strokeWidth": 7}, "encoding": {"y": {"field": "lo", "type": "quantitative", "scale": {"domain": [0, 30]}}, "y2": {"field": "hi"}}},
                        {"data": {"name": "sC"}, "mark": {"type": "tick", "color": "black", "thickness": 7, "size": 46}, "encoding": {"y": {"field": "lo", "type": "quantitative", "scale": {"domain": [0, 30]}}}},
                        {"data": {"name": "sC"}, "mark": {"type": "tick", "color": "black", "thickness": 7, "size": 46}, "encoding": {"y": {"field": "hi", "type": "quantitative", "scale": {"domain": [0, 30]}}}}
                      ]
                    },
                    {
                      "data": {"name": "bC"},
                      "layer": [
                        {"mark": {"type": "rule", "color": "black", "strokeWidth": 11, "strokeCap": "square"}, "encoding": {"x": {"field": "x1", "type": "quantitative", "scale": {"domain": [-0.66, 2.66], "nice": false, "zero": false}, "axis": null}, "x2": {"field": "x2"}, "y": {"field": "y", "type": "quantitative", "scale": {"domain": [0, 30]}}}},
                        {"mark": {"type": "rule", "color": "black", "strokeWidth": 11, "strokeCap": "square"}, "encoding": {"x": {"field": "x1", "type": "quantitative", "scale": {"domain": [-0.66, 2.66], "nice": false, "zero": false}, "axis": null}, "y": {"field": "y", "type": "quantitative", "scale": {"domain": [0, 30]}}, "y2": {"field": "yb"}}},
                        {"mark": {"type": "rule", "color": "black", "strokeWidth": 11, "strokeCap": "square"}, "encoding": {"x": {"field": "x2", "type": "quantitative", "scale": {"domain": [-0.66, 2.66], "nice": false, "zero": false}, "axis": null}, "y": {"field": "y", "type": "quantitative", "scale": {"domain": [0, 30]}}, "y2": {"field": "yb"}}},
                        {"mark": {"type": "text", "fontSize": 80, "fontWeight": "bold", "baseline": "alphabetic", "dy": 4, "color": "black"}, "encoding": {"x": {"field": "xm", "type": "quantitative", "scale": {"domain": [-0.66, 2.66], "nice": false, "zero": false}, "axis": null}, "y": {"field": "y", "type": "quantitative", "scale": {"domain": [0, 30]}}, "text": {"field": "s", "type": "nominal"}}}
                      ]
                    }
                  ]
                }
              ]
            }
          ]
        },
        {
          "spacing": 0,
          "hconcat": [
            {"width": 1, "height": 1, "data": {"values": []}, "mark": {"type": "point", "opacity": 0}},
            {
              "spacing": 70,
              "hconcat": [
                {
                  "width": 573, "height": 693,
                  "title": {"text": "D", "dx": -284, "offset": -77},
                  "resolve": {"scale": {"x": "independent"}},
                  "layer": [
                    {
                      "encoding": {"x": {"field": "g", "type": "nominal", "scale": {"type": "band", "domain": ["C","T","D"], "paddingInner": 0.34, "paddingOuter": 0.33}, "axis": {"title": null, "labelAngle": -45, "labelExpr": "datum.value == 'C' ? 'CONTROL' : datum.value == 'T' ? 'CITRONELLA' : 'DEET'"}}},
                      "layer": [
                        {"data": {"name": "sD"}, "mark": {"type": "bar", "width": 114, "stroke": "black", "strokeWidth": 7}, "encoding": {"y": {"field": "m", "type": "quantitative", "title": "SCH (AU)", "scale": {"domain": [0, 100], "nice": false}, "axis": {"values": [0, 20, 40, 60, 80, 100]}}, "y2": {"datum": 0}, "color": {"field": "g", "type": "nominal", "scale": {"domain": ["C","T","D"], "range": ["#0000ff","#00c000","#ff0000"]}, "legend": null}}},
                        {"data": {"name": "pD"}, "mark": {"type": "circle", "size": 320, "opacity": 1, "stroke": "black", "strokeWidth": 2}, "encoding": {"xOffset": {"field": "i", "type": "quantitative", "scale": {"domain": [-3, 38], "nice": false, "zero": false}}, "y": {"field": "v", "type": "quantitative", "scale": {"domain": [0, 100]}}, "color": {"field": "g", "type": "nominal", "scale": {"domain": ["C","T","D"], "range": ["#0000ff","#00c000","#ff0000"]}, "legend": null}}},
                        {"data": {"name": "sD"}, "mark": {"type": "rule", "color": "black", "strokeWidth": 7}, "encoding": {"y": {"field": "lo", "type": "quantitative", "scale": {"domain": [0, 100]}}, "y2": {"field": "hi"}}},
                        {"data": {"name": "sD"}, "mark": {"type": "tick", "color": "black", "thickness": 7, "size": 46}, "encoding": {"y": {"field": "lo", "type": "quantitative", "scale": {"domain": [0, 100]}}}},
                        {"data": {"name": "sD"}, "mark": {"type": "tick", "color": "black", "thickness": 7, "size": 46}, "encoding": {"y": {"field": "hi", "type": "quantitative", "scale": {"domain": [0, 100]}}}}
                      ]
                    },
                    {
                      "data": {"name": "bD"},
                      "layer": [
                        {"mark": {"type": "rule", "color": "black", "strokeWidth": 11, "strokeCap": "square"}, "encoding": {"x": {"field": "x1", "type": "quantitative", "scale": {"domain": [-0.66, 2.66], "nice": false, "zero": false}, "axis": null}, "x2": {"field": "x2"}, "y": {"field": "y", "type": "quantitative", "scale": {"domain": [0, 100]}}}},
                        {"mark": {"type": "rule", "color": "black", "strokeWidth": 11, "strokeCap": "square"}, "encoding": {"x": {"field": "x1", "type": "quantitative", "scale": {"domain": [-0.66, 2.66], "nice": false, "zero": false}, "axis": null}, "y": {"field": "y", "type": "quantitative", "scale": {"domain": [0, 100]}}, "y2": {"field": "yb"}}},
                        {"mark": {"type": "rule", "color": "black", "strokeWidth": 11, "strokeCap": "square"}, "encoding": {"x": {"field": "x2", "type": "quantitative", "scale": {"domain": [-0.66, 2.66], "nice": false, "zero": false}, "axis": null}, "y": {"field": "y", "type": "quantitative", "scale": {"domain": [0, 100]}}, "y2": {"field": "yb"}}},
                        {"mark": {"type": "text", "fontSize": 80, "fontWeight": "bold", "baseline": "alphabetic", "dy": 4, "color": "black"}, "encoding": {"x": {"field": "xm", "type": "quantitative", "scale": {"domain": [-0.66, 2.66], "nice": false, "zero": false}, "axis": null}, "y": {"field": "y", "type": "quantitative", "scale": {"domain": [0, 100]}}, "text": {"field": "s", "type": "nominal"}}}
                      ]
                    }
                  ]
                },
                {
                  "width": 576, "height": 689,
                  "title": {"text": "E", "dx": -282, "offset": -65},
                  "resolve": {"scale": {"x": "independent"}},
                  "layer": [
                    {
                      "encoding": {"x": {"field": "g", "type": "nominal", "scale": {"type": "band", "domain": ["C","T","D"], "paddingInner": 0.34, "paddingOuter": 0.33}, "axis": {"title": null, "labelAngle": -45, "labelExpr": "datum.value == 'C' ? 'CONTROL' : datum.value == 'T' ? 'CITRONELLA' : 'DEET'"}}},
                      "layer": [
                        {"data": {"name": "sE"}, "mark": {"type": "bar", "width": 114, "stroke": "black", "strokeWidth": 7}, "encoding": {"y": {"field": "m", "type": "quantitative", "title": "MELANIN  (AU)", "scale": {"domain": [0, 250], "nice": false}, "axis": {"values": [0, 50, 100, 150, 200, 250]}}, "y2": {"datum": 0}, "color": {"field": "g", "type": "nominal", "scale": {"domain": ["C","T","D"], "range": ["#0000ff","#00c000","#ff0000"]}, "legend": null}}},
                        {"data": {"name": "pE"}, "mark": {"type": "circle", "size": 320, "opacity": 1, "stroke": "black", "strokeWidth": 2}, "encoding": {"xOffset": {"field": "i", "type": "quantitative", "scale": {"domain": [-3, 38], "nice": false, "zero": false}}, "y": {"field": "v", "type": "quantitative", "scale": {"domain": [0, 250]}}, "color": {"field": "g", "type": "nominal", "scale": {"domain": ["C","T","D"], "range": ["#0000ff","#00c000","#ff0000"]}, "legend": null}}},
                        {"data": {"name": "sE"}, "mark": {"type": "rule", "color": "black", "strokeWidth": 7}, "encoding": {"y": {"field": "lo", "type": "quantitative", "scale": {"domain": [0, 250]}}, "y2": {"field": "hi"}}},
                        {"data": {"name": "sE"}, "mark": {"type": "tick", "color": "black", "thickness": 7, "size": 46}, "encoding": {"y": {"field": "lo", "type": "quantitative", "scale": {"domain": [0, 250]}}}},
                        {"data": {"name": "sE"}, "mark": {"type": "tick", "color": "black", "thickness": 7, "size": 46}, "encoding": {"y": {"field": "hi", "type": "quantitative", "scale": {"domain": [0, 250]}}}}
                      ]
                    },
                    {
                      "data": {"name": "bE"},
                      "layer": [
                        {"mark": {"type": "rule", "color": "black", "strokeWidth": 11, "strokeCap": "square"}, "encoding": {"x": {"field": "x1", "type": "quantitative", "scale": {"domain": [-0.66, 2.66], "nice": false, "zero": false}, "axis": null}, "x2": {"field": "x2"}, "y": {"field": "y", "type": "quantitative", "scale": {"domain": [0, 250]}}}},
                        {"mark": {"type": "rule", "color": "black", "strokeWidth": 11, "strokeCap": "square"}, "encoding": {"x": {"field": "x1", "type": "quantitative", "scale": {"domain": [-0.66, 2.66], "nice": false, "zero": false}, "axis": null}, "y": {"field": "y", "type": "quantitative", "scale": {"domain": [0, 250]}}, "y2": {"field": "yb"}}},
                        {"mark": {"type": "rule", "color": "black", "strokeWidth": 11, "strokeCap": "square"}, "encoding": {"x": {"field": "x2", "type": "quantitative", "scale": {"domain": [-0.66, 2.66], "nice": false, "zero": false}, "axis": null}, "y": {"field": "y", "type": "quantitative", "scale": {"domain": [0, 250]}}, "y2": {"field": "yb"}}},
                        {"mark": {"type": "text", "fontSize": 80, "fontWeight": "bold", "baseline": "alphabetic", "dy": 4, "color": "black"}, "encoding": {"x": {"field": "xm", "type": "quantitative", "scale": {"domain": [-0.66, 2.66], "nice": false, "zero": false}, "axis": null}, "y": {"field": "y", "type": "quantitative", "scale": {"domain": [0, 250]}}, "text": {"field": "s", "type": "nominal"}}}
                      ]
                    }
                  ]
                },
                {
                  "width": 560, "height": 693,
                  "title": {"text": "F", "dx": -233, "offset": -19},
                  "resolve": {"scale": {"x": "independent"}},
                  "layer": [
                    {
                      "encoding": {"x": {"field": "g", "type": "nominal", "scale": {"type": "band", "domain": ["C","T","D"], "paddingInner": 0.34, "paddingOuter": 0.33}, "axis": {"title": null, "labelAngle": -45, "labelExpr": "datum.value == 'C' ? 'CONTROL' : datum.value == 'T' ? 'CITRONELLA' : 'DEET'"}}},
                      "layer": [
                        {"data": {"name": "sF"}, "mark": {"type": "bar", "width": 111, "stroke": "black", "strokeWidth": 7}, "encoding": {"y": {"field": "m", "type": "quantitative", "title": "PH", "scale": {"domain": [0, 8], "nice": false}, "axis": {"values": [0, 2, 4, 6, 8], "format": "d"}}, "y2": {"datum": 0}, "color": {"field": "g", "type": "nominal", "scale": {"domain": ["C","T","D"], "range": ["#0000ff","#00c000","#ff0000"]}, "legend": null}}},
                        {"data": {"name": "pF"}, "mark": {"type": "circle", "size": 320, "opacity": 1, "stroke": "black", "strokeWidth": 2}, "encoding": {"xOffset": {"field": "i", "type": "quantitative", "scale": {"domain": [-3, 38], "nice": false, "zero": false}}, "y": {"field": "v", "type": "quantitative", "scale": {"domain": [0, 8]}}, "color": {"field": "g", "type": "nominal", "scale": {"domain": ["C","T","D"], "range": ["#0000ff","#00c000","#ff0000"]}, "legend": null}}},
                        {"data": {"name": "sF"}, "mark": {"type": "rule", "color": "black", "strokeWidth": 7}, "encoding": {"y": {"field": "lo", "type": "quantitative", "scale": {"domain": [0, 8]}}, "y2": {"field": "hi"}}},
                        {"data": {"name": "sF"}, "mark": {"type": "tick", "color": "black", "thickness": 7, "size": 46}, "encoding": {"y": {"field": "lo", "type": "quantitative", "scale": {"domain": [0, 8]}}}},
                        {"data": {"name": "sF"}, "mark": {"type": "tick", "color": "black", "thickness": 7, "size": 46}, "encoding": {"y": {"field": "hi", "type": "quantitative", "scale": {"domain": [0, 8]}}}}
                      ]
                    },
                    {
                      "data": {"name": "bF"},
                      "layer": [
                        {"mark": {"type": "rule", "color": "black", "strokeWidth": 11, "strokeCap": "square"}, "encoding": {"x": {"field": "x1", "type": "quantitative", "scale": {"domain": [-0.66, 2.66], "nice": false, "zero": false}, "axis": null}, "x2": {"field": "x2"}, "y": {"field": "y", "type": "quantitative", "scale": {"domain": [0, 8]}}}},
                        {"mark": {"type": "rule", "color": "black", "strokeWidth": 11, "strokeCap": "square"}, "encoding": {"x": {"field": "x1", "type": "quantitative", "scale": {"domain": [-0.66, 2.66], "nice": false, "zero": false}, "axis": null}, "y": {"field": "y", "type": "quantitative", "scale": {"domain": [0, 8]}}, "y2": {"field": "yb"}}},
                        {"mark": {"type": "rule", "color": "black", "strokeWidth": 11, "strokeCap": "square"}, "encoding": {"x": {"field": "x2", "type": "quantitative", "scale": {"domain": [-0.66, 2.66], "nice": false, "zero": false}, "axis": null}, "y": {"field": "y", "type": "quantitative", "scale": {"domain": [0, 8]}}, "y2": {"field": "yb"}}},
                        {"mark": {"type": "text", "fontSize": 80, "fontWeight": "bold", "baseline": "alphabetic", "dy": 4, "color": "black"}, "encoding": {"x": {"field": "xm", "type": "quantitative", "scale": {"domain": [-0.66, 2.66], "nice": false, "zero": false}, "axis": null}, "y": {"field": "y", "type": "quantitative", "scale": {"domain": [0, 8]}}, "text": {"field": "s", "type": "nominal"}}}
                      ]
                    }
                  ]
                }
              ]
            }
          ]
        }
      ]
    },
    {
      "spacing": 0,
      "hconcat": [
        {"width": 1, "height": 1, "data": {"values": []}, "mark": {"type": "point", "opacity": 0}},
        {
          "spacing": 281,
          "hconcat": [
            {
              "width": 577, "height": 693,
              "title": {"text": "G", "dx": -318, "offset": -77},
              "resolve": {"scale": {"x": "independent"}},
              "layer": [
                {
                  "encoding": {"x": {"field": "g", "type": "nominal", "scale": {"type": "band", "domain": ["C","T","D"], "paddingInner": 0.34, "paddingOuter": 0.33}, "axis": {"title": null, "labelAngle": -45, "labelExpr": "datum.value == 'C' ? 'CONTROL' : datum.value == 'T' ? 'CITRONELLA' : 'DEET'"}}},
                  "layer": [
                    {"data": {"name": "sG"}, "mark": {"type": "bar", "width": 114, "stroke": "black", "strokeWidth": 7}, "encoding": {"y": {"field": "m", "type": "quantitative", "title": "SEBUM (AU)", "scale": {"domain": [0, 600], "nice": false}, "axis": {"values": [0, 200, 400, 600]}}, "y2": {"datum": 0}, "color": {"field": "g", "type": "nominal", "scale": {"domain": ["C","T","D"], "range": ["#0000ff","#00c000","#ff0000"]}, "legend": null}}},
                    {"data": {"name": "pG"}, "mark": {"type": "circle", "size": 320, "opacity": 1, "stroke": "black", "strokeWidth": 2}, "encoding": {"xOffset": {"field": "i", "type": "quantitative", "scale": {"domain": [-3, 38], "nice": false, "zero": false}}, "y": {"field": "v", "type": "quantitative", "scale": {"domain": [0, 600]}}, "color": {"field": "g", "type": "nominal", "scale": {"domain": ["C","T","D"], "range": ["#0000ff","#00c000","#ff0000"]}, "legend": null}}},
                    {"data": {"name": "sG"}, "mark": {"type": "rule", "color": "black", "strokeWidth": 7}, "encoding": {"y": {"field": "lo", "type": "quantitative", "scale": {"domain": [0, 600]}}, "y2": {"field": "hi"}}},
                    {"data": {"name": "sG"}, "mark": {"type": "tick", "color": "black", "thickness": 7, "size": 46}, "encoding": {"y": {"field": "lo", "type": "quantitative", "scale": {"domain": [0, 600]}}}},
                    {"data": {"name": "sG"}, "mark": {"type": "tick", "color": "black", "thickness": 7, "size": 46}, "encoding": {"y": {"field": "hi", "type": "quantitative", "scale": {"domain": [0, 600]}}}}
                  ]
                },
                {
                  "data": {"name": "bG"},
                  "layer": [
                    {"mark": {"type": "rule", "color": "black", "strokeWidth": 11, "strokeCap": "square"}, "encoding": {"x": {"field": "x1", "type": "quantitative", "scale": {"domain": [-0.66, 2.66], "nice": false, "zero": false}, "axis": null}, "x2": {"field": "x2"}, "y": {"field": "y", "type": "quantitative", "scale": {"domain": [0, 600]}}}},
                    {"mark": {"type": "rule", "color": "black", "strokeWidth": 11, "strokeCap": "square"}, "encoding": {"x": {"field": "x1", "type": "quantitative", "scale": {"domain": [-0.66, 2.66], "nice": false, "zero": false}, "axis": null}, "y": {"field": "y", "type": "quantitative", "scale": {"domain": [0, 600]}}, "y2": {"field": "yb"}}},
                    {"mark": {"type": "rule", "color": "black", "strokeWidth": 11, "strokeCap": "square"}, "encoding": {"x": {"field": "x2", "type": "quantitative", "scale": {"domain": [-0.66, 2.66], "nice": false, "zero": false}, "axis": null}, "y": {"field": "y", "type": "quantitative", "scale": {"domain": [0, 600]}}, "y2": {"field": "yb"}}},
                    {"mark": {"type": "text", "fontSize": 80, "fontWeight": "bold", "baseline": "alphabetic", "dy": 4, "color": "black"}, "encoding": {"x": {"field": "xm", "type": "quantitative", "scale": {"domain": [-0.66, 2.66], "nice": false, "zero": false}, "axis": null}, "y": {"field": "y", "type": "quantitative", "scale": {"domain": [0, 600]}}, "text": {"field": "s", "type": "nominal"}}}
                  ]
                }
              ]
            },
            {
              "width": 1082, "height": 718,
              "title": {"text": "H", "dx": -252, "offset": -79},
              "resolve": {"scale": {"x": "independent"}},
              "layer": [
                {
                  "data": {"name": "sH"},
                  "encoding": {"x": {"field": "k", "type": "nominal", "scale": {"type": "band", "domain": ["C0","C2","C7","g1","T0","T2","T7","g2","D0","D2","D7"], "paddingInner": 0.4, "paddingOuter": 0.2}, "axis": {"title": null, "labelAngle": 0, "labelPadding": 6, "labelLineHeight": 92, "values": ["C0","C2","C7","T0","T2","T7","D0","D2","D7"], "labelExpr": "datum.value == 'C2' ? ['R2', 'CONTROL'] : datum.value == 'T2' ? ['R2', 'CITRONELLA'] : datum.value == 'D2' ? ['R2', 'DEET'] : 'R' + substring(datum.value, 1)"}}},
                  "layer": [
                    {"mark": {"type": "bar", "width": 59, "stroke": "black", "strokeWidth": 8}, "encoding": {"y": {"field": "m", "type": "quantitative", "title": "ELASTICITY", "scale": {"domain": [0, 1], "nice": false}, "axis": {"values": [0, 0.2, 0.4, 0.6, 0.8, 1], "format": ".1f"}}, "y2": {"datum": 0}, "fill": {"field": "k", "type": "nominal", "scale": {"domain": ["C0","C2","C7","T0","T2","T7","D0","D2","D7"], "range": ["#0000c0","#8080ff","#c0c0ff","#40ff40","#80ff80","#c0ffc0","#ff0000","#ff8080","#ffc0c0"]}, "legend": null}}},
                    {"mark": {"type": "rule", "color": "#333333", "strokeWidth": 3}, "encoding": {"y": {"field": "lo", "type": "quantitative", "scale": {"domain": [0, 1]}}, "y2": {"field": "hi"}}},
                    {"mark": {"type": "tick", "color": "#333333", "thickness": 3, "size": 30}, "encoding": {"y": {"field": "lo", "type": "quantitative", "scale": {"domain": [0, 1]}}}},
                    {"mark": {"type": "tick", "color": "#333333", "thickness": 3, "size": 30}, "encoding": {"y": {"field": "hi", "type": "quantitative", "scale": {"domain": [0, 1]}}}}
                  ]
                },
                {
                  "data": {"name": "bH"},
                  "layer": [
                    {"mark": {"type": "rule", "color": "black", "strokeWidth": 11, "strokeCap": "square"}, "encoding": {"x": {"field": "x1", "type": "quantitative", "scale": {"domain": [-0.5, 10.5], "nice": false, "zero": false}, "axis": null}, "x2": {"field": "x2"}, "y": {"field": "y", "type": "quantitative", "scale": {"domain": [0, 1]}}}},
                    {"mark": {"type": "rule", "color": "black", "strokeWidth": 11, "strokeCap": "square"}, "encoding": {"x": {"field": "x1", "type": "quantitative", "scale": {"domain": [-0.5, 10.5], "nice": false, "zero": false}, "axis": null}, "y": {"field": "y", "type": "quantitative", "scale": {"domain": [0, 1]}}, "y2": {"field": "yb"}}},
                    {"mark": {"type": "rule", "color": "black", "strokeWidth": 11, "strokeCap": "square"}, "encoding": {"x": {"field": "x2", "type": "quantitative", "scale": {"domain": [-0.5, 10.5], "nice": false, "zero": false}, "axis": null}, "y": {"field": "y", "type": "quantitative", "scale": {"domain": [0, 1]}}, "y2": {"field": "yb"}}},
                    {"mark": {"type": "text", "fontSize": 80, "fontWeight": "bold", "baseline": "alphabetic", "dy": 4, "color": "black"}, "encoding": {"x": {"field": "xm", "type": "quantitative", "scale": {"domain": [-0.5, 10.5], "nice": false, "zero": false}, "axis": null}, "y": {"field": "y", "type": "quantitative", "scale": {"domain": [0, 1]}}, "text": {"field": "s", "type": "nominal"}}}
                  ]
                }
              ]
            }
          ]
        }
      ]
    }
  ]
}
